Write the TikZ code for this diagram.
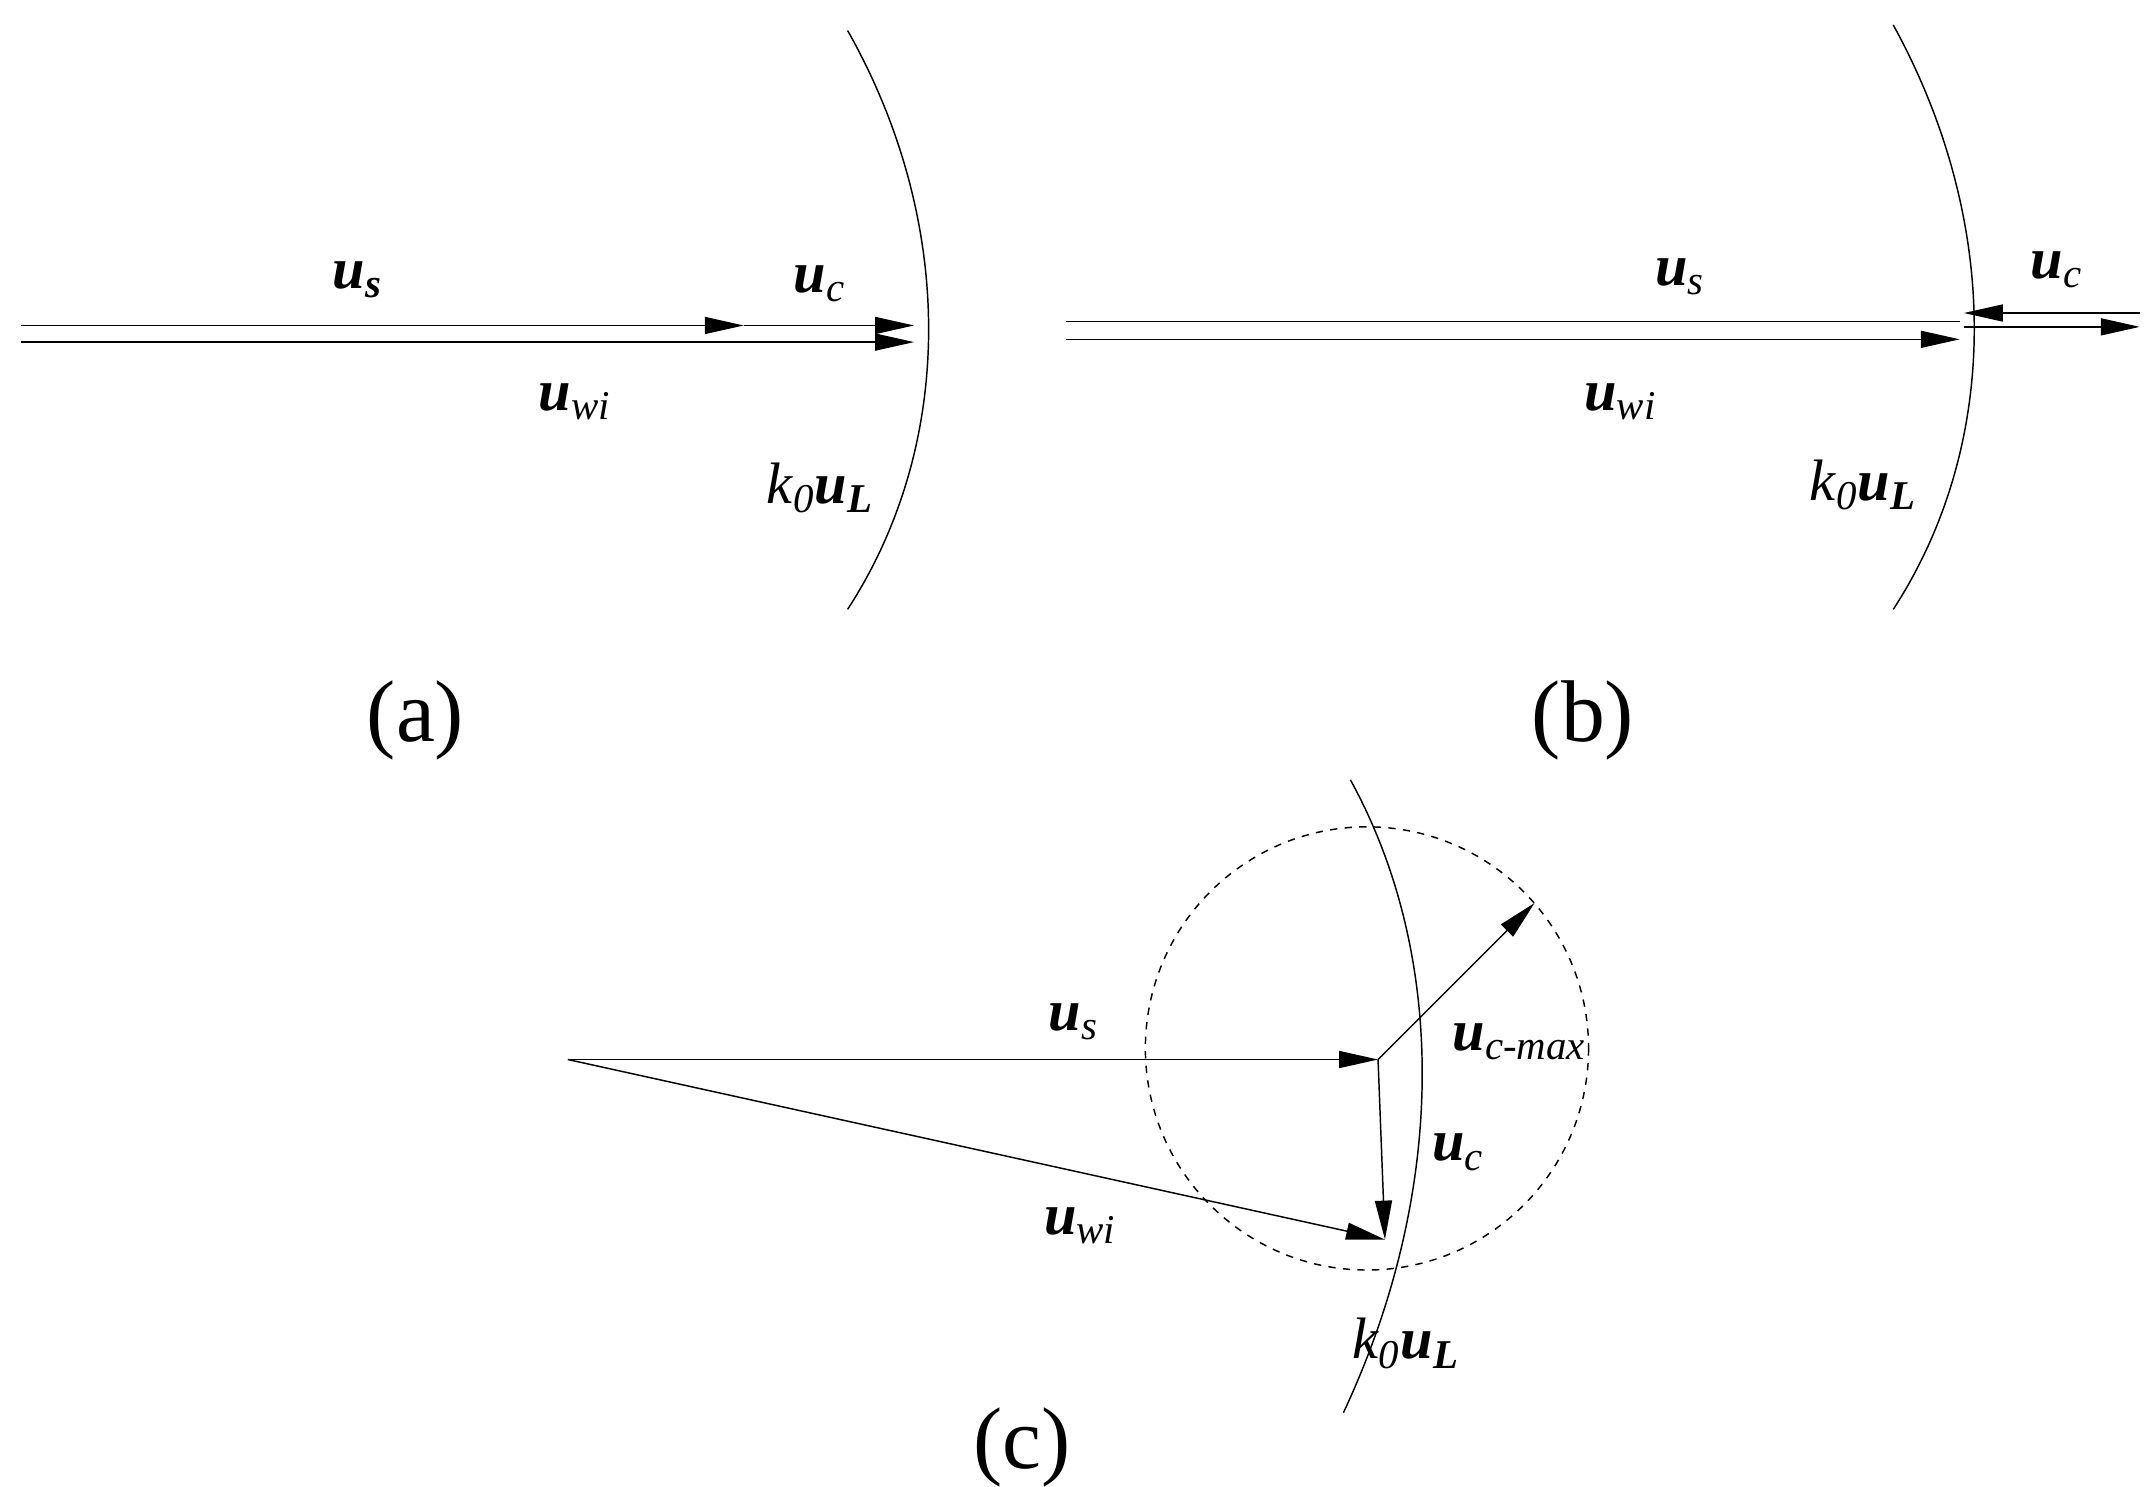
\documentclass[tikz,border=0pt]{standalone}
\usepackage{fontspec}
\setmainfont{Liberation Serif}
\usetikzlibrary{arrows.meta}
\newcommand\vbu[1]{\textbf{\textit{u}}\textsubscript{\textit{#1}}}
\newcommand\vkl{\textit{k}\textsubscript{\textit{0}}\textbf{\textit{u}}\textsubscript{\textbf{\textit{L}}}}
\begin{document}
\begin{tikzpicture}[x=0.02cm,y=-0.02cm,
 vec/.style={line width=0.6pt,-{Triangle[length=16pt,width=7pt]}},
 thin/.style={line width=0.6pt},
 lab/.style={font=\fontsize{24}{28}\selectfont},
 captxt/.style={font=\fontsize{36}{40}\selectfont}]
\useasboundingbox (0,0) rectangle (1556,1073);
% (a)
\coordinate (a0) at (15,235); \coordinate (a1) at (537,235); \coordinate (a2) at (660,235);
\coordinate (a3) at (15,247); \coordinate (a4) at (660,247);
\draw[vec] (a0) -- (a1);
\draw[vec] (a1) -- (a2);
\draw[vec] (a3) -- (a4);
\draw[thin] (612,22) .. controls (690,160) and (690,320) .. (612,440);
\node[lab] (as) at (258,202) {\textbf{\textit{u}}\textsubscript{\textbf{\textit{s}}}};
\node[lab] (ac) at (592,205) {\vbu{c}};
\node[lab] (aw) at (415,290) {\vbu{wi}};
\node[lab] (ak) at (592,352) {\vkl};
\node[captxt] (capa) at (300,520) {(a)};
% (b)
\coordinate (b0) at (770,232); \coordinate (b1) at (1415,232);
\coordinate (b2) at (770,245); \coordinate (b3) at (1415,245);
\coordinate (b4) at (1545,226); \coordinate (b5) at (1418,226);
\coordinate (b6) at (1418,236); \coordinate (b7) at (1545,236);
\draw[thin] (b0) -- (b1);
\draw[vec] (b2) -- (b3);
\draw[vec] (b4) -- (b5);
\draw[vec] (b6) -- (b7);
\draw[thin] (1367,18) .. controls (1445,160) and (1445,320) .. (1367,440);
\node[lab] (bs) at (1213,200) {\vbu{s}};
\node[lab] (bc) at (1485,195) {\vbu{c}};
\node[lab] (bw) at (1170,290) {\vbu{wi}};
\node[lab] (bk) at (1345,350) {\vkl};
\node[captxt] (capb) at (1143,520) {(b)};
% (c)
\coordinate (o) at (410,765); \coordinate (p) at (995,765);
\coordinate (q) at (1000,895); \coordinate (m) at (1108,652);
\draw[dashed,thin] (987,757) circle (160);
\draw[thin] (975,563) .. controls (1045,690) and (1045,860) .. (970,1020);
\draw[vec] (o) -- (p);
\draw[vec] (o) -- (q);
\draw[vec] (p) -- (q);
\draw[vec] (p) -- (m);
\node[lab] (cs) at (775,738) {\vbu{s}};
\node[lab] (cm) at (1097,752) {\vbu{c-max}};
\node[lab] (cc) at (1053,832) {\vbu{c}};
\node[lab] (cw) at (780,885) {\vbu{wi}};
\node[lab] (ck) at (1015,970) {\vkl};
\node[captxt] (capc) at (738,1045) {(c)};
\end{tikzpicture}
\end{document}
